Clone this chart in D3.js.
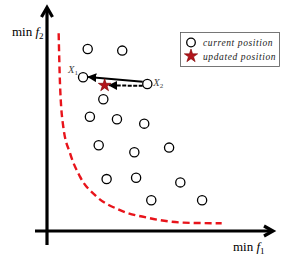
<!DOCTYPE html>
<html>
<head>
<meta charset="utf-8">
<script src="https://cdn.jsdelivr.net/npm/d3@7"></script>
<style>
  body { margin: 0; background: #fff; }
  svg { display: block; }
  text { font-family: "Liberation Serif", "DejaVu Serif", serif; }
</style>
</head>
<body>
<svg id="chart"></svg>
<script>
// candidate solutions (objective space, arbitrary units)
const pointX = [1.85, 3.42, 1.64, 4.56, 2.56, 1.95, 3.18, 4.42, 2.35, 3.97, 5.55, 2.71, 4.05, 6.06, 4.74, 7.05];
const pointY = [8.27, 8.20, 6.99, 6.68, 5.99, 5.19, 5.08, 4.88, 3.90, 3.58, 3.79, 2.36, 2.42, 2.21, 1.40, 1.40];
const starX = 2.62, starY = 6.62;           // updated position
const idxX1 = 2, idxX2 = 3;                  // the two particles used for the move

// true pareto front (dashed red)
const frontX = [0.53, 0.59, 0.74, 1.05, 1.5, 2.26, 3.32, 4.68, 6.2, 7.94];
const frontY = [8.99, 6.71, 4.74, 3.53, 2.47, 1.56, 0.95, 0.58, 0.38, 0.35];

const legendLabels = ["current position", "updated position"];

const W = 305, H = 267;
const svg = d3.select("#chart").attr("width", W).attr("height", H);

const x = d3.scaleLinear().domain([0, 10]).range([47, 267]);
const y = d3.scaleLinear().domain([0, 10]).range([231, 11]);

const defs = svg.append("defs");
defs.append("marker")
    .attr("id", "head")
    .attr("viewBox", "0 0 10 10")
    .attr("refX", 9).attr("refY", 5)
    .attr("markerWidth", 4.5).attr("markerHeight", 4.5)
    .attr("markerUnits", "strokeWidth")
    .attr("orient", "auto")
  .append("path")
    .attr("d", "M0,0 L10,5 L0,10 Z")
    .attr("fill", "#000");

// axes with open chevron heads
const axisG = svg.append("g").attr("stroke", "#000").attr("stroke-width", 3.2).attr("fill", "none");
axisG.append("line").attr("x1", x(0)).attr("x2", x(0)).attr("y1", 245).attr("y2", 8);
axisG.append("line").attr("x1", 35).attr("x2", 272).attr("y1", y(0)).attr("y2", y(0));
axisG.append("path")
    .attr("d", `M${x(0) - 5.5},${17} L${x(0)},${7.5} L${x(0) + 5.5},${17}`)
    .attr("stroke-linejoin", "miter");
axisG.append("path")
    .attr("d", `M${264},${y(0) - 5} L${273},${y(0)} L${264},${y(0) + 5}`)
    .attr("stroke-linejoin", "miter");

// axis labels
const yl = svg.append("text").attr("x", 12).attr("y", 36).attr("font-size", 13);
yl.append("tspan").text("min ");
yl.append("tspan").attr("font-style", "italic").text("f");
yl.append("tspan").attr("font-size", 9).attr("dy", 3).text("2");

const xl = svg.append("text").attr("x", 233).attr("y", 251).attr("font-size", 13);
xl.append("tspan").text("min ");
xl.append("tspan").attr("font-style", "italic").text("f");
xl.append("tspan").attr("font-size", 9).attr("dy", 3).text("1");

// pareto front
const frontData = frontX.map((v, i) => [v, frontY[i]]);
svg.append("path")
    .datum(frontData)
    .attr("d", d3.line().x(d => x(d[0])).y(d => y(d[1])).curve(d3.curveMonotoneX))
    .attr("fill", "none")
    .attr("stroke", "#e8141b")
    .attr("stroke-width", 2.4)
    .attr("stroke-dasharray", "7,4");

// arrows between X2 -> X1 and X2 -> updated position
const r = 4.6;
const p1 = [x(pointX[idxX1]), y(pointY[idxX1])];
const p2 = [x(pointX[idxX2]), y(pointY[idxX2])];
const ps = [x(starX), y(starY)];

svg.append("line")
    .attr("x1", p2[0] - r).attr("y1", p2[1] - 2.3)
    .attr("x2", p1[0] + r + 0.5).attr("y2", p1[1] - 0.3)
    .attr("stroke", "#000").attr("stroke-width", 2)
    .attr("marker-end", "url(#head)");
svg.append("line")
    .attr("x1", p2[0] - r).attr("y1", p2[1] + 1.8)
    .attr("x2", ps[0] + 4.5).attr("y2", ps[1])
    .attr("stroke", "#000").attr("stroke-width", 2)
    .attr("stroke-dasharray", "4,1.5")
    .attr("marker-end", "url(#head)");

// points
svg.append("g").selectAll("circle")
    .data(pointX.map((v, i) => [v, pointY[i]]))
    .join("circle")
    .attr("cx", d => x(d[0]))
    .attr("cy", d => y(d[1]))
    .attr("r", r)
    .attr("fill", "#fff")
    .attr("stroke", "#000")
    .attr("stroke-width", 1.3);

// star
const star = d3.symbol().type(d3.symbolStar);
svg.append("path")
    .attr("d", star.size(50)())
    .attr("transform", `translate(${ps[0]},${ps[1]})`)
    .attr("fill", "#b3141b")
    .attr("stroke", "#7a0000")
    .attr("stroke-width", 0.6);

// X1 / X2 labels
function subLabel(px, py, main, sub) {
  const t = svg.append("text").attr("x", px).attr("y", py).attr("font-size", 10.5).attr("fill", "#444");
  t.append("tspan").attr("font-style", "italic").text(main);
  t.append("tspan").attr("font-size", 7).attr("dy", 2).text(sub);
}
subLabel(p1[0] - 15, p1[1] - 4, "X", "1");
subLabel(p2[0] + 6, p2[1] + 2, "X", "2");

// legend
const lg = svg.append("g");
lg.append("rect")
    .attr("x", 180.5).attr("y", 32.5).attr("width", 99).attr("height", 34)
    .attr("fill", "#fff").attr("stroke", "#555").attr("stroke-width", 0.8);
lg.append("circle").attr("cx", 191).attr("cy", 42.5).attr("r", 4.3)
    .attr("fill", "#fff").attr("stroke", "#000").attr("stroke-width", 1.3);
lg.append("path").attr("d", star.size(55)())
    .attr("transform", "translate(191,56)")
    .attr("fill", "#b3141b").attr("stroke", "#7a0000").attr("stroke-width", 0.6);
lg.selectAll("text.lab")
    .data(legendLabels)
    .join("text")
    .attr("class", "lab")
    .attr("x", 203)
    .attr("y", (d, i) => 46 + i * 13.5)
    .attr("font-size", 9.5)
    .attr("font-style", "italic")
    .attr("letter-spacing", 0.6)
    .attr("fill", "#222")
    .text(d => d);
</script>
</body>
</html>
